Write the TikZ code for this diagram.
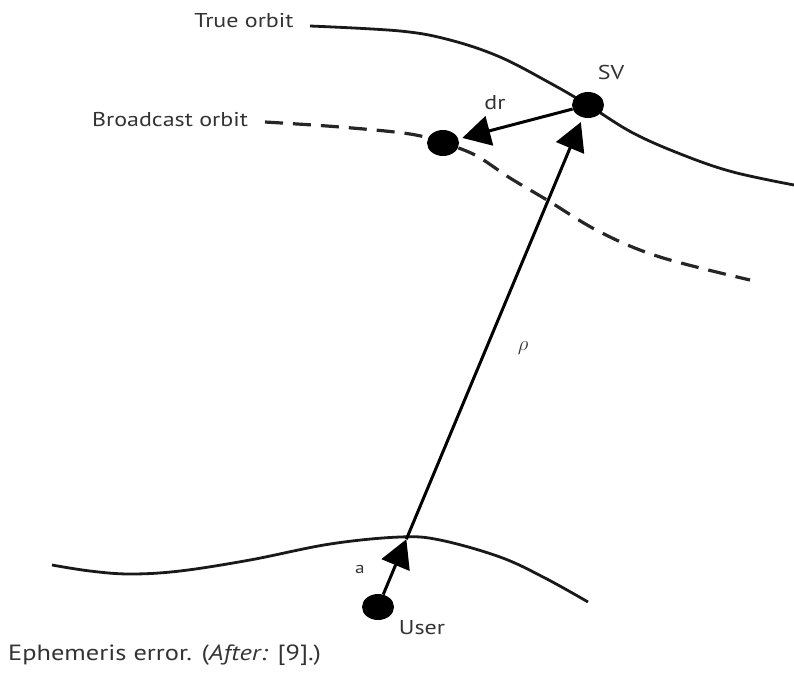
\documentclass[tikz,border=0pt]{standalone}
\usepackage{fontspec}
\setmainfont{PT Sans}[FakeStretch=1.2]
\usetikzlibrary{arrows.meta,shapes.geometric,calc}
\begin{document}
\begin{tikzpicture}[x=1pt,y=-1pt,
  lbl/.style={font=\fontsize{20}{24}\selectfont, text=black!80, inner sep=0pt},
  dot/.style={ellipse, fill=black, minimum width=32pt, minimum height=26pt, inner sep=0pt},
  orbit/.style={line width=2.8pt, black!90},
  dashorbit/.style={line width=3.2pt, black!85, dash pattern=on 18pt off 10pt},
  arr/.style={line width=3pt, -{Triangle[length=28pt,width=30pt]}}]
\useasboundingbox (0,0) rectangle (794,672);
% orbits
\draw[orbit] plot[smooth, tension=0.6] coordinates {(310,26) (400,31) (450,40) (500,57) (550,83) (588,105) (633,133) (683,155) (733,172) (794,185)};
\draw[dashorbit] plot[smooth, tension=0.6] coordinates {(265,122) (340,127) (410,134) (443,143) (475,155) (510,178) (547,200) (600,232) (660,257) (750,280)};
\draw[orbit] plot[smooth, tension=0.6] coordinates {(52,565) (90,571) (130,574) (180,571) (250,560) (330,544) (400,537) (440,540) (500,557) (545,578) (588,602)};
% dots
\node[dot] (sv) at (588,105) {};
\node[dot] (bc) at (443,143) {};
\node[dot] (user) at (378,607) {};
\coordinate (A) at ($(user)!0.135!(sv)$);
% arrows
\draw[arr, shorten >=4pt] (sv) -- (bc);
\draw[arr, shorten >=5pt] (A) -- (sv);
\draw[arr] (user) -- (A);
% labels
\node[lbl] (ltrue) at (244,21) {True orbit};
\node[lbl] (lbc) at (170,120) {Broadcast orbit};
\node[lbl] (lsv) at (611,72) {SV};
\node[lbl] (ldr) at (495,103) {dr};
\node[lbl] (lrho) at (523,348) {$\rho$};
\node[lbl, font=\fontsize{16}{19}\selectfont] (la) at (360,569) {a};
\node[lbl] (luser) at (422,628) {User};
\node[lbl, anchor=west, font=\fontsize{22}{26}\selectfont] (cap) at (8,655) {Ephemeris error. (\textit{After:} [9].)};
\end{tikzpicture}
\end{document}
